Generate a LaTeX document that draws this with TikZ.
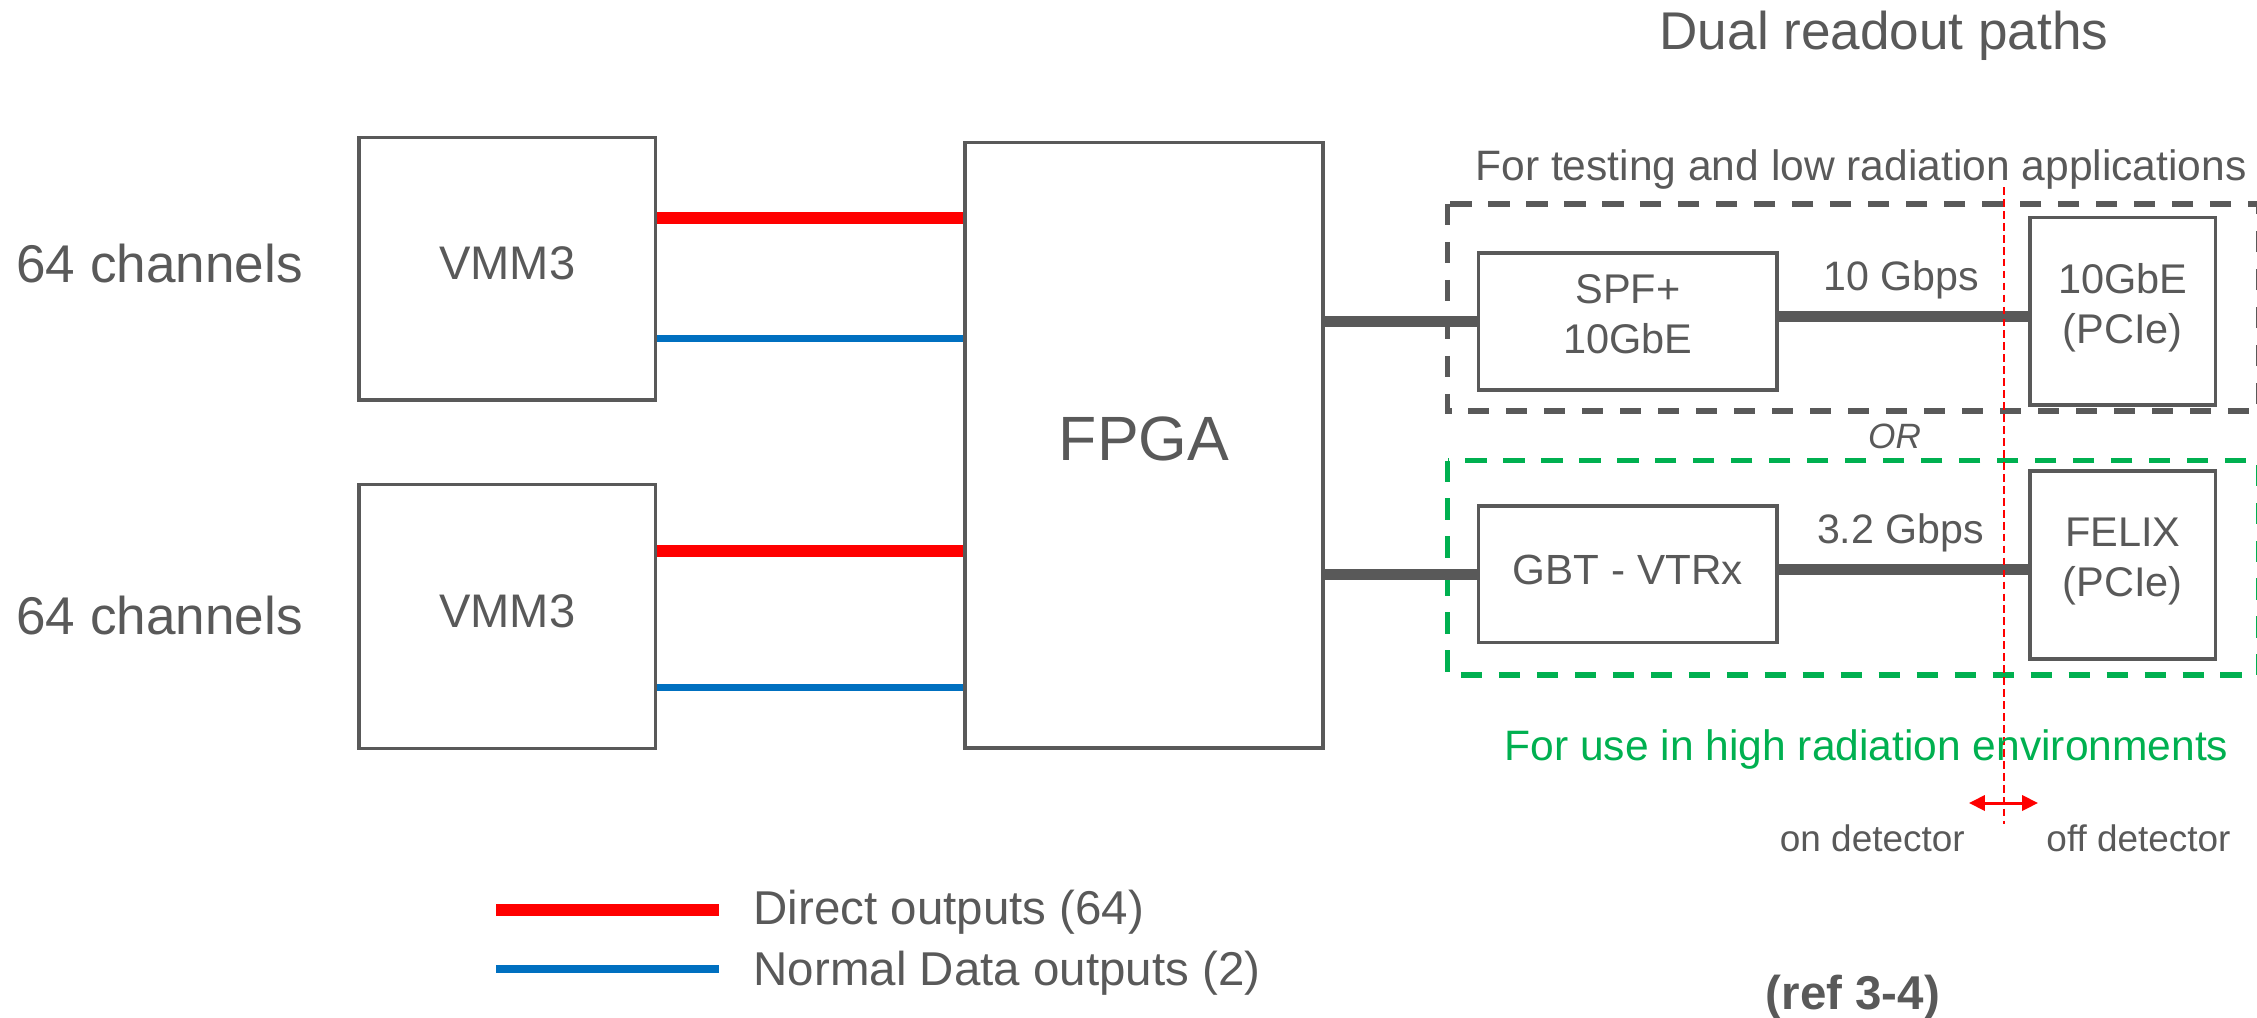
\documentclass[tikz,border=0pt]{standalone}
\usepackage{fontspec}
\setmainfont{Liberation Sans}
\usetikzlibrary{arrows.meta}
\definecolor{grau}{HTML}{595959}
\definecolor{rot}{HTML}{FF0000}
\definecolor{blau}{HTML}{0070C0}
\definecolor{gruen}{HTML}{00B050}
\begin{document}
\begin{tikzpicture}[x=0.01cm, y=-0.01cm,
  chipbox/.style={draw=grau, line width=1pt, text=grau, inner sep=0pt, align=center},
  txt/.style={text=grau, inner sep=0pt, anchor=base},
  link/.style={draw=grau, line width=3pt},
  direct/.style={draw=rot, line width=3.4pt},
  normalout/.style={draw=blau, line width=2pt},
  pathbox/.style={line width=1.6pt, dash pattern=on 6pt off 4.8pt},
  grenze/.style={draw=rot, line width=0.55pt, dash pattern=on 2.2pt off 1.2pt},
  >={Triangle[length=4.5pt, width=4.3pt]}]
\useasboundingbox (0,0) rectangle (2257,1018);
% Auslesepfade (rechts angeschnitten)
\draw[pathbox, grau]  (1447.5,204)   rectangle (2259,411);
\draw[pathbox, gruen] (1447.5,460.5) rectangle (2259,675);
\node[chipbox, minimum width=2.966cm, minimum height=2.625cm, font=\fontsize{13.4}{16}\selectfont] (VA) at (507.3,268.7) {VMM3\strut};
\node[chipbox, minimum width=2.966cm, minimum height=2.634cm, font=\fontsize{13.4}{16}\selectfont] (VB) at (507.3,616.5) {VMM3\strut};
\node[chipbox, minimum width=3.58cm, minimum height=6.055cm, font=\fontsize{17.8}{21.4}\selectfont] (FP) at (1144,445.3) {FPGA\strut};
\node[chipbox, minimum width=2.984cm, minimum height=1.372cm, font=\fontsize{11.8}{14.2}\selectfont] (SP) at (1627.8,321.4) {SPF+\\10GbE\strut};
\node[chipbox, minimum width=2.984cm, minimum height=1.365cm, font=\fontsize{12}{14.4}\selectfont] (GB) at (1627.8,574.3) {GBT - VTRx\strut};
\node[chipbox, minimum width=1.855cm, minimum height=1.875cm, font=\fontsize{11.8}{14.2}\selectfont] (GE) at (2122.8,311.3) {10GbE\\(PCIe)\strut};
\node[chipbox, minimum width=1.855cm, minimum height=1.882cm, font=\fontsize{11.8}{14.2}\selectfont] (FX) at (2122.8,564.9) {FELIX\\(PCIe)\strut};
\coordinate (dA) at ([yshift=0.51cm]VA.east);
\coordinate (nA) at ([yshift=-0.701cm]VA.east);
\coordinate (dB) at ([yshift=0.656cm]VB.east);
\coordinate (nB) at ([yshift=-0.705cm]VB.east);
\draw[direct]    (dA) -- (dA -| FP.west);
\draw[normalout] (nA) -- (nA -| FP.west);
\draw[direct]    (dB) -- (dB -| FP.west);
\draw[normalout] (nB) -- (nB -| FP.west);
\draw[link] (FP.east |- SP.west) -- (SP.west);
\draw[link] (FP.east |- GB.west) -- (GB.west);
\coordinate (oS) at ([yshift=0.05cm]SP.east);
\coordinate (oG) at ([yshift=0.05cm]GB.east);
\draw[link] (oS) -- (oS -| GE.west);
\draw[link] (oG) -- (oG -| FX.west);
% Grenze on/off detector
\coordinate (Go) at (2004,187);
\coordinate (Gu) at (2004,824);
\coordinate (AL) at (1969,803);
\coordinate (AR) at (2038,803);
\draw[grenze] (Go) -- (Gu);
\draw[rot, line width=0.85pt, <->] (AL) -- (AR);
\node[txt, font=\fontsize{15.1}{18}\selectfont] (chA) at (159.5,282.1) {64 channels};
\node[txt, font=\fontsize{15.1}{18}\selectfont] (chB) at (159.5,634.4) {64 channels};
\node[txt, font=\fontsize{15.1}{18}\selectfont] (titel) at (1884,50) {Dual readout paths};
\node[txt, font=\fontsize{12.1}{14.5}\selectfont] (low) at (1861,180) {For testing and low radiation applications};
\node[txt, font=\fontsize{11.7}{14}\selectfont] (r10) at (1901,290) {10 Gbps};
\node[txt, font=\fontsize{11.7}{14}\selectfont] (r32) at (1900.5,543.5) {3.2 Gbps};
\node[txt, font=\fontsize{10}{12}\selectfont\itshape] (oder) at (1894.6,448) {OR};
\node[txt, text=gruen, font=\fontsize{12.1}{14.5}\selectfont] (high) at (1866.5,760) {For use in high radiation environments};
\node[txt, font=\fontsize{10.5}{12.6}\selectfont] (on) at (1872.3,851) {on detector};
\node[txt, font=\fontsize{10.5}{12.6}\selectfont] (off) at (2138.5,851) {off detector};
\node[txt, font=\fontsize{13.5}{16}\selectfont\bfseries] (ref) at (1853,1009) {(ref 3-4)};
% Legende
\coordinate (LA) at (496,910);
\coordinate (LB) at (496,969);
\draw[direct]    (LA) -- ++(222.6,0);
\draw[normalout] (LB) -- ++(222.6,0);
\node[txt, anchor=base west, font=\fontsize{13.5}{16}\selectfont] (legA) at (753,924) {Direct outputs (64)};
\node[txt, anchor=base west, font=\fontsize{13.5}{16}\selectfont] (legB) at (753,985.7) {Normal Data outputs (2)};
\end{tikzpicture}
\end{document}
